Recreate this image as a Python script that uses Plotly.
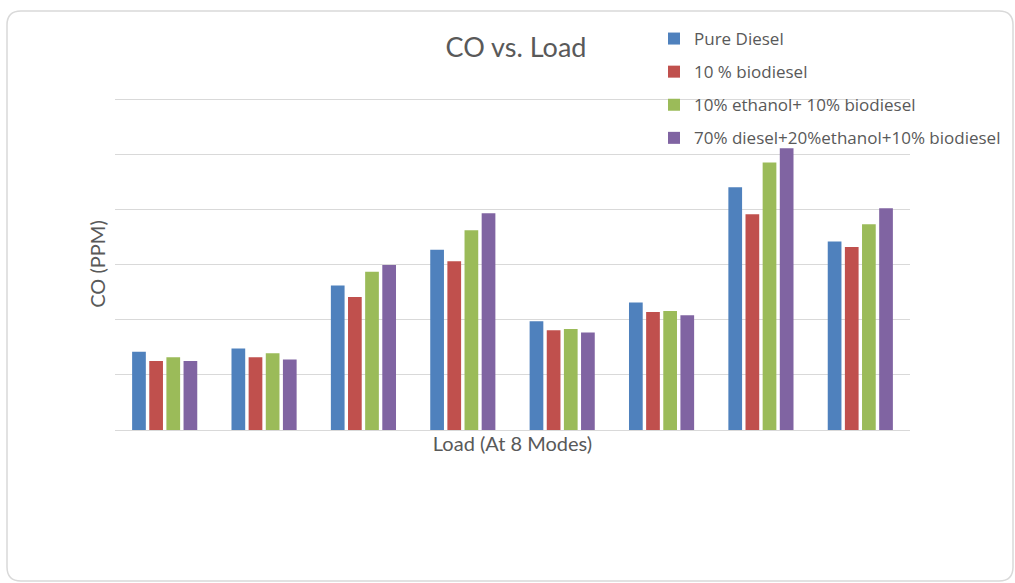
import plotly.graph_objects as go

# CO emissions per load mode for each fuel blend (gridline units)
modes = ["Mode 1", "Mode 2", "Mode 3", "Mode 4", "Mode 5", "Mode 6", "Mode 7", "Mode 8"]
pure_diesel = [1.42, 1.48, 2.62, 3.27, 1.97, 2.31, 4.40, 3.42]
biodiesel_10 = [1.25, 1.32, 2.41, 3.06, 1.81, 2.14, 3.91, 3.32]
ethanol10_biodiesel10 = [1.32, 1.39, 2.87, 3.62, 1.83, 2.16, 4.85, 3.73]
diesel70_ethanol20_biodiesel10 = [1.25, 1.28, 2.99, 3.93, 1.77, 2.08, 5.11, 4.02]

series = [
    ("Pure Diesel", pure_diesel, "#4F81BD"),
    ("10 % biodiesel", biodiesel_10, "#C0504D"),
    ("10% ethanol+ 10% biodiesel", ethanol10_biodiesel10, "#9BBB59"),
    ("70% diesel+20%ethanol+10% biodiesel", diesel70_ethanol20_biodiesel10, "#8064A2"),
]

FONT = "Lato"
GRAY = "#595959"

fig = go.Figure()
for i, (name, vals, color) in enumerate(series):
    fig.add_trace(go.Bar(
        x=modes, y=vals, name=name, marker_color=color,
        marker_line_width=0, legendgroup=f"g{i}",
    ))

# plot-area pixel geometry, used to place the outer rounded frame
W, H = 1015, 583
L, R, T, B = 115, 105, 98, 153
pw, ph = W - L - R, H - T - B


def px(x):
    return (x - L) / pw


def py(y):
    return (H - B - y) / ph


x0, y0, x1, y1, r = 7, 11, 1013, 581, 14
frame = (
    f"M {px(x0 + r)},{py(y0)} L {px(x1 - r)},{py(y0)} "
    f"Q {px(x1)},{py(y0)} {px(x1)},{py(y0 + r)} "
    f"L {px(x1)},{py(y1 - r)} Q {px(x1)},{py(y1)} {px(x1 - r)},{py(y1)} "
    f"L {px(x0 + r)},{py(y1)} Q {px(x0)},{py(y1)} {px(x0)},{py(y1 - r)} "
    f"L {px(x0)},{py(y0 + r)} Q {px(x0)},{py(y0)} {px(x0 + r)},{py(y0)} Z"
)

fig.update_layout(
    width=W, height=H,
    margin=dict(l=L, r=R, t=T, b=B, autoexpand=False),
    paper_bgcolor="white", plot_bgcolor="white",
    barmode="group", bargap=0.31, bargroupgap=0.2,
    font=dict(family=FONT, color=GRAY),
    title=dict(text="CO vs. Load", x=516 / W, xanchor="center",
               y=1 - 48 / H, yanchor="middle",
               font=dict(family=FONT, size=27, color=GRAY)),
    legend=dict(x=px(654), y=py(21), xanchor="left", yanchor="top",
                traceorder="grouped", tracegroupgap=8,
                font=dict(family="Open Sans", size=17, color=GRAY),
                bgcolor="rgba(0,0,0,0)"),
    xaxis=dict(showticklabels=False, ticks="", showgrid=False,
               showline=True, linecolor="#D9D9D9", linewidth=1,
               title=dict(text="Load (At 8 Modes)", standoff=6,
                          font=dict(family=FONT, size=20, color=GRAY))),
    yaxis=dict(range=[0, 6.02], dtick=1, showticklabels=False, ticks="",
               showgrid=True, gridcolor="#D9D9D9", gridwidth=1,
               zeroline=False,
               title=dict(text="CO (PPM)", standoff=3,
                          font=dict(family=FONT, size=20, color=GRAY))),
    shapes=[dict(type="path", xref="paper", yref="paper", path=frame,
                 line=dict(color="#D9D9D9", width=1.5), layer="below")],
)

fig.write_html("out.html")
